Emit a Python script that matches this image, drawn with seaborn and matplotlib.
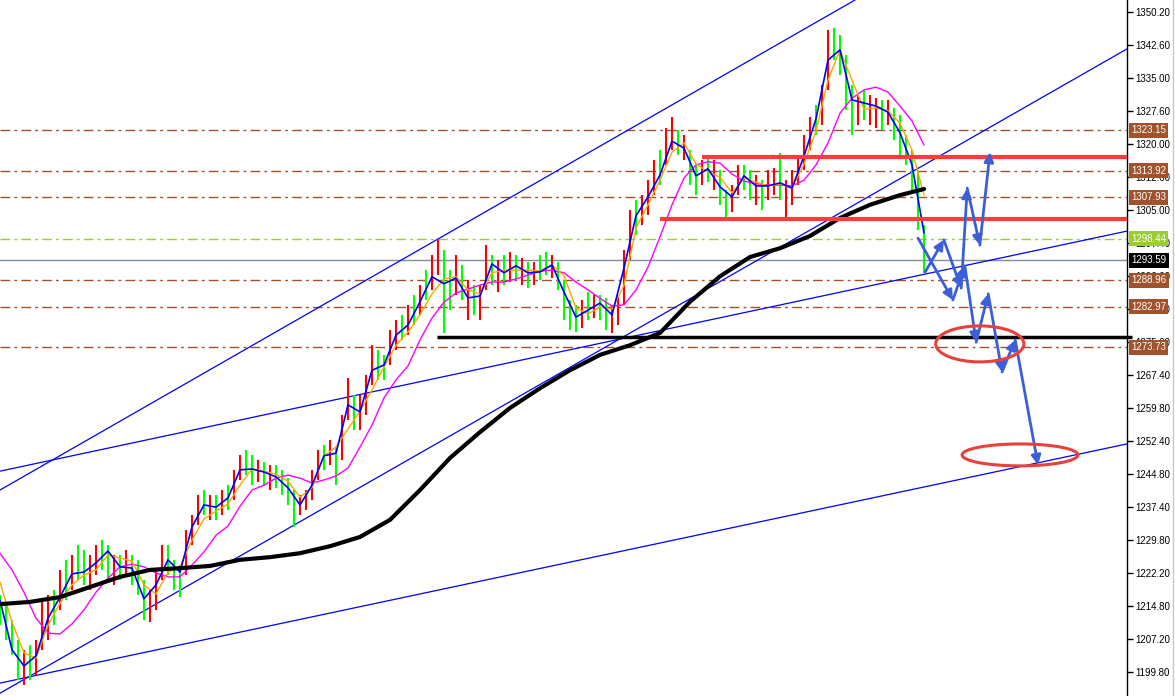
import seaborn as sns
import matplotlib.pyplot as plt
import pandas as pd
import numpy as np
from matplotlib.patches import Ellipse
from matplotlib.lines import Line2D
import matplotlib.transforms as mtransforms

# --------------------
# Price bars (high / low per bar, R = red bar, G = green bar)
# --------------------
highs = [1217.3, 1215.0, 1211.6, 1207.0, 1204.8, 1205.9, 1207.0, 1216.1, 1217.3, 1218.4,
         1223.0, 1225.3, 1226.4, 1228.7, 1227.5, 1226.4, 1228.7, 1229.8, 1228.7, 1226.4,
         1226.4, 1227.5, 1226.4, 1225.3, 1220.7, 1218.4, 1223.0, 1228.7, 1228.7, 1225.3,
         1224.1, 1232.1, 1235.5, 1240.1, 1241.2, 1240.1, 1240.1, 1241.2, 1242.3, 1245.8,
         1249.2, 1250.3, 1249.2, 1248.0, 1247.6, 1246.9, 1246.9, 1245.8, 1243.9, 1241.2,
         1240.1, 1241.2, 1245.8, 1250.3, 1251.5, 1252.6, 1250.8, 1258.3, 1266.7, 1262.9,
         1262.9, 1267.4, 1274.3, 1273.1, 1272.0, 1277.7, 1279.9, 1281.1, 1283.4, 1285.6,
         1287.9, 1291.3, 1294.8, 1298.2, 1295.9, 1291.3, 1294.8, 1292.5, 1289.1, 1287.9,
         1287.9, 1297.0, 1294.8, 1293.6, 1294.8, 1295.4, 1294.8, 1294.1, 1293.2, 1293.2,
         1294.8, 1295.4, 1294.8, 1293.2, 1289.1, 1284.5, 1283.4, 1284.5, 1286.3, 1285.6,
         1285.6, 1285.0, 1283.4, 1285.6, 1295.9, 1305.0, 1307.3, 1308.4, 1311.8, 1316.4,
         1318.7, 1323.7, 1326.2, 1323.2, 1322.1, 1318.7, 1315.3, 1316.4, 1316.9, 1316.4,
         1314.1, 1309.6, 1310.7, 1315.3, 1315.3, 1314.1, 1313.0, 1311.8, 1314.1, 1314.6,
         1318.0, 1311.8, 1314.1, 1317.5, 1322.1, 1326.2, 1329.0, 1333.5, 1346.0, 1346.5,
         1344.9, 1340.3, 1333.5, 1331.2, 1332.4, 1331.2, 1330.5, 1330.1, 1330.1, 1328.3,
         1326.7, 1322.1, 1318.7, 1314.1, 1301.6]
lows = [1210.4, 1207.0, 1203.6, 1197.9, 1196.8, 1197.9, 1199.0, 1204.8, 1207.0, 1210.4,
        1213.9, 1216.1, 1218.4, 1220.7, 1219.6, 1218.4, 1221.8, 1223.0, 1220.7, 1219.6,
        1220.7, 1221.8, 1219.6, 1217.3, 1211.6, 1211.1, 1213.9, 1220.7, 1221.8, 1218.4,
        1216.8, 1221.8, 1228.7, 1233.3, 1235.5, 1234.4, 1234.4, 1235.5, 1236.7, 1238.9,
        1243.5, 1244.6, 1242.3, 1243.0, 1242.3, 1241.2, 1241.7, 1240.1, 1237.8, 1232.8,
        1235.5, 1236.7, 1238.9, 1243.5, 1245.8, 1246.9, 1242.3, 1248.0, 1257.2, 1254.9,
        1254.9, 1258.3, 1265.1, 1266.3, 1266.3, 1269.7, 1273.1, 1275.4, 1276.5, 1278.8,
        1281.1, 1284.5, 1286.8, 1290.2, 1277.0, 1282.2, 1285.6, 1284.5, 1279.9, 1281.1,
        1279.9, 1286.8, 1287.9, 1286.3, 1287.9, 1288.6, 1289.1, 1287.9, 1287.2, 1287.9,
        1289.1, 1290.2, 1289.5, 1286.8, 1279.9, 1277.7, 1277.2, 1278.1, 1279.9, 1280.4,
        1279.9, 1277.7, 1277.0, 1278.8, 1283.4, 1293.6, 1299.3, 1301.6, 1303.9, 1308.4,
        1310.7, 1315.3, 1318.7, 1317.5, 1316.4, 1310.7, 1308.4, 1310.7, 1311.4, 1309.6,
        1306.2, 1303.4, 1304.6, 1308.4, 1309.6, 1307.3, 1306.2, 1305.0, 1307.3, 1308.4,
        1307.3, 1302.7, 1306.2, 1310.7, 1314.1, 1318.7, 1322.1, 1324.4, 1332.4, 1339.2,
        1335.8, 1327.8, 1322.1, 1324.4, 1325.5, 1324.4, 1323.7, 1323.2, 1324.4, 1321.0,
        1317.5, 1315.3, 1309.6, 1300.4, 1290.7]
bar_colors = ("GGGGRGRRRGRGRGGRRGGRGR" "GGGRRRGGGRRRGRGRGRRG" "GRGRGGGGRRRRGRGRRG"
              "RRRGGRRGRGRGRRGGRGR" "GRRGRGRGRGRGGRGGGGRGRGGRR" "RRGRRRGRRGRGGRGRGG"
              "RRGGRGRRGRRRRRGRR" "GGGGRGRRGRGGGGGG")

# --------------------
# Moving averages (one value every 2 bars; 200-period every 5 bars)
# --------------------
ma_fast = [1216.1, 1204.8, 1201.1, 1203.4, 1212.0, 1216.8, 1222.1, 1222.5, 1224.6, 1227.3,
           1223.7, 1223.4, 1216.4, 1219.6, 1225.3, 1222.5, 1232.8, 1237.8, 1237.3, 1239.4,
           1245.8, 1246.0, 1245.3, 1244.2, 1241.7, 1237.8, 1242.3, 1249.0, 1249.6, 1260.6,
           1259.0, 1268.5, 1269.7, 1276.5, 1278.8, 1284.1, 1289.8, 1288.2, 1289.5, 1285.0,
           1285.4, 1292.7, 1290.7, 1292.3, 1290.7, 1290.9, 1292.5, 1286.3, 1280.6, 1282.2,
           1283.8, 1281.1, 1291.8, 1303.7, 1308.0, 1313.0, 1320.7, 1319.1, 1312.8, 1314.4,
           1310.3, 1308.0, 1312.8, 1310.5, 1310.5, 1311.2, 1310.0, 1317.3, 1325.8, 1339.2,
           1341.5, 1330.1, 1329.4, 1328.7, 1327.3, 1322.6, 1315.3, 1299.8]
ma_mid = [1220.2, 1211.1, 1204.1, 1202.9, 1210.4, 1215.4, 1219.6, 1221.8, 1223.0, 1226.4,
          1225.7, 1225.0, 1219.6, 1217.5, 1222.5, 1223.7, 1229.8, 1234.6, 1236.4, 1238.0,
          1242.3, 1246.0, 1245.5, 1244.8, 1243.2, 1239.6, 1241.7, 1249.0, 1251.0, 1255.1,
          1259.2, 1264.0, 1269.2, 1274.2, 1277.2, 1281.1, 1285.9, 1289.3, 1289.8, 1286.8,
          1285.9, 1290.7, 1291.3, 1291.3, 1291.3, 1291.1, 1292.5, 1290.0, 1282.7, 1281.3,
          1282.9, 1282.4, 1287.9, 1300.9, 1306.2, 1311.8, 1318.2, 1320.3, 1315.5, 1313.7,
          1312.5, 1308.9, 1312.3, 1311.4, 1310.5, 1311.0, 1310.0, 1315.5, 1323.0, 1334.6,
          1341.5, 1334.6, 1328.0, 1328.3, 1327.6, 1324.8, 1318.7, 1308.4]
ma_slow = [1226.8, 1223.0, 1217.9, 1212.0, 1208.6, 1208.4, 1210.7, 1213.9, 1217.9, 1221.1,
           1223.7, 1224.3, 1223.7, 1222.3, 1221.4, 1221.4, 1224.1, 1227.1, 1230.9, 1233.0,
           1237.5, 1241.2, 1242.3, 1243.9, 1244.6, 1243.9, 1242.8, 1243.5, 1244.4, 1246.2,
           1251.0, 1256.0, 1262.2, 1266.3, 1269.5, 1275.4, 1280.4, 1284.0, 1286.1, 1287.0,
           1287.9, 1288.6, 1288.6, 1289.3, 1290.2, 1291.1, 1291.3, 1290.7, 1288.6, 1286.8,
           1284.9, 1283.1, 1283.4, 1286.8, 1292.0, 1298.9, 1306.2, 1312.3, 1315.3, 1316.0,
           1315.7, 1313.2, 1311.6, 1311.0, 1310.7, 1310.7, 1310.5, 1311.8, 1315.3, 1320.3,
           1327.1, 1330.5, 1332.4, 1333.0, 1331.9, 1328.7, 1325.3, 1319.8]
ma200_idx = [0, 5, 10, 15, 20, 25, 30, 35, 40, 45, 50, 55, 60, 65, 70, 75,
             80, 85, 90, 95, 100, 105, 110, 115, 120, 125, 130, 135, 140, 145, 150, 154]
ma200 = [1215.2, 1215.7, 1216.8, 1219.1, 1221.4, 1223.0, 1223.4, 1223.9, 1225.3, 1225.9,
         1226.8, 1228.4, 1230.5, 1234.4, 1241.2, 1248.5, 1254.4, 1259.9, 1264.4, 1268.5,
         1272.0, 1274.2, 1277.0, 1284.1, 1289.9, 1294.3, 1296.3, 1299.1, 1303.2, 1306.2,
         1308.4, 1309.8]

# --------------------
# Drawn objects: levels, trend lines, scenario arrows
# --------------------
level_prices = [1323.15, 1313.92, 1307.93, 1288.96, 1282.97, 1273.73]
green_level = 1298.44
bid_price = 1293.59
red_levels = [(117.0, 1317.0), (110.0, 1303.0)]   # (start bar, price)
black_level = (72.8, 1276.1)
trend_lines = [((0, 1241.2), (142.5, 1352.87)),
               ((0, 1194.9), (187.8, 1341.7)),
               ((0, 1245.5), (187.8, 1300.2)),
               ((0, 1197.2), (187.8, 1251.7))]
path_a = [(154.2, 1290.9), (157.3, 1298.2), (160.2, 1287.2), (161.2, 1310.0),
          (163.3, 1297.0), (165.0, 1318.2)]
path_b = [(153.0, 1298.6), (158.8, 1284.5), (160.8, 1292.3), (162.7, 1274.9),
          (164.7, 1285.9), (167.0, 1268.1), (169.2, 1275.4), (173.0, 1246.9)]
ellipses = [(163.3, 1274.5, 14.7, 8.2), (170.0, 1249.2, 19.3, 5.0)]
ticks = [1350.20, 1342.60, 1335.00, 1327.60, 1320.00, 1312.60, 1305.00, 1297.40, 1290.00,
         1282.40, 1275.00, 1267.40, 1259.80, 1252.40, 1244.80, 1237.40, 1229.80, 1222.20,
         1214.80, 1207.20, 1199.80]

sns.set_style("white")
plt.rcParams['font.family'] = ['Liberation Sans', 'DejaVu Sans']

fig = plt.figure(figsize=(11.75, 6.96), dpi=100)
ax = fig.add_axes([0, 0, 1127 / 1175, 1])
ax.set_xlim(0, 187.83)
ax.set_ylim(1194.26, 1352.87)

# horizontal levels
for p in level_prices:
    ax.axhline(p, color="#a0522d", lw=1, ls=(0, (7, 3, 2, 3)), zorder=1)
ax.axhline(green_level, color="#9acd32", lw=1, ls=(0, (7, 3, 2, 3)), zorder=1)
ax.axhline(bid_price, color="#8090a0", lw=1, zorder=1)

# trend lines
for p1, p2 in trend_lines:
    ax.axline(p1, p2, color="#0000ff", lw=0.9, zorder=2)

# bars
idx = np.arange(len(highs))
cols = ["#ff0000" if c == "R" else "#00ff00" for c in bar_colors]
ax.vlines(idx, lows, highs, colors=cols, lw=1.5, zorder=3)

# moving averages
ma_df = pd.DataFrame({"bar": np.arange(0, 155, 2), "fast": ma_fast, "mid": ma_mid, "slow": ma_slow})
sns.lineplot(data=ma_df, x="bar", y="slow", color="#ff00ff", lw=1, ax=ax, zorder=4)
sns.lineplot(data=ma_df, x="bar", y="mid", color="#ffa500", lw=1, ax=ax, zorder=4)
sns.lineplot(data=ma_df, x="bar", y="fast", color="#0000ff", lw=1.2, ax=ax, zorder=5)
sns.lineplot(x=ma200_idx, y=ma200, color="black", lw=3, ax=ax, zorder=5)

# red / black levels
for start, p in red_levels:
    ax.plot([start, 187.83], [p, p], color="#ff3b3b", lw=3, solid_capstyle="butt", zorder=6)
ax.plot([black_level[0], 188.7], [black_level[1]] * 2, color="black", lw=2.5,
        solid_capstyle="butt", clip_on=False, zorder=6)

# scenario arrows
for path in (path_a, path_b):
    for (x0, y0), (x1, y1) in zip(path[:-1], path[1:]):
        ax.annotate("", xy=(x1, y1), xytext=(x0, y0),
                    arrowprops=dict(arrowstyle="-|>", color="#3b5fd8", lw=2,
                                    mutation_scale=14, shrinkA=0, shrinkB=0), zorder=7)

for cx, cy, w, h in ellipses:
    ax.add_patch(Ellipse((cx, cy), w, h, fill=False, ec="#e8403a", lw=2.2, zorder=7))

# axis styling
for s in ["top", "left", "bottom"]:
    ax.spines[s].set_visible(False)
ax.spines["right"].set_color("black")
ax.spines["right"].set_linewidth(1)
ax.set_xticks([])
ax.yaxis.tick_right()
ax.set_yticks(ticks)
ax.set_yticklabels([f"{t:.2f}" for t in ticks])
ax.tick_params(axis="y", right=True, length=4, width=1, pad=2, labelsize=7, colors="black")
ax.set_xlabel("")
ax.set_ylabel("")

# price labels on the axis
trans = mtransforms.blended_transform_factory(ax.transAxes, ax.transData)
for p in level_prices:
    ax.text(1.0035, p, f"{p:.2f}", transform=trans, color="white", fontsize=7, va="center",
            ha="left", clip_on=False, zorder=10,
            bbox=dict(boxstyle="square,pad=0.25", fc="#a0522d", ec="none"))
ax.text(1.0035, green_level, f"{green_level:.2f}", transform=trans, color="white", fontsize=7,
        va="center", ha="left", clip_on=False, zorder=10,
        bbox=dict(boxstyle="square,pad=0.25", fc="#9acd32", ec="none"))
ax.text(1.0035, bid_price, f"{bid_price:.2f}", transform=trans, color="white", fontsize=7,
        va="center", ha="left", clip_on=False, zorder=10,
        bbox=dict(boxstyle="square,pad=0.25", fc="black", ec="none"))

fig.add_artist(Line2D([1173 / 1175] * 2, [0, 1], color="#c8c8c8", lw=1))

fig.savefig("out.png", dpi=100)
